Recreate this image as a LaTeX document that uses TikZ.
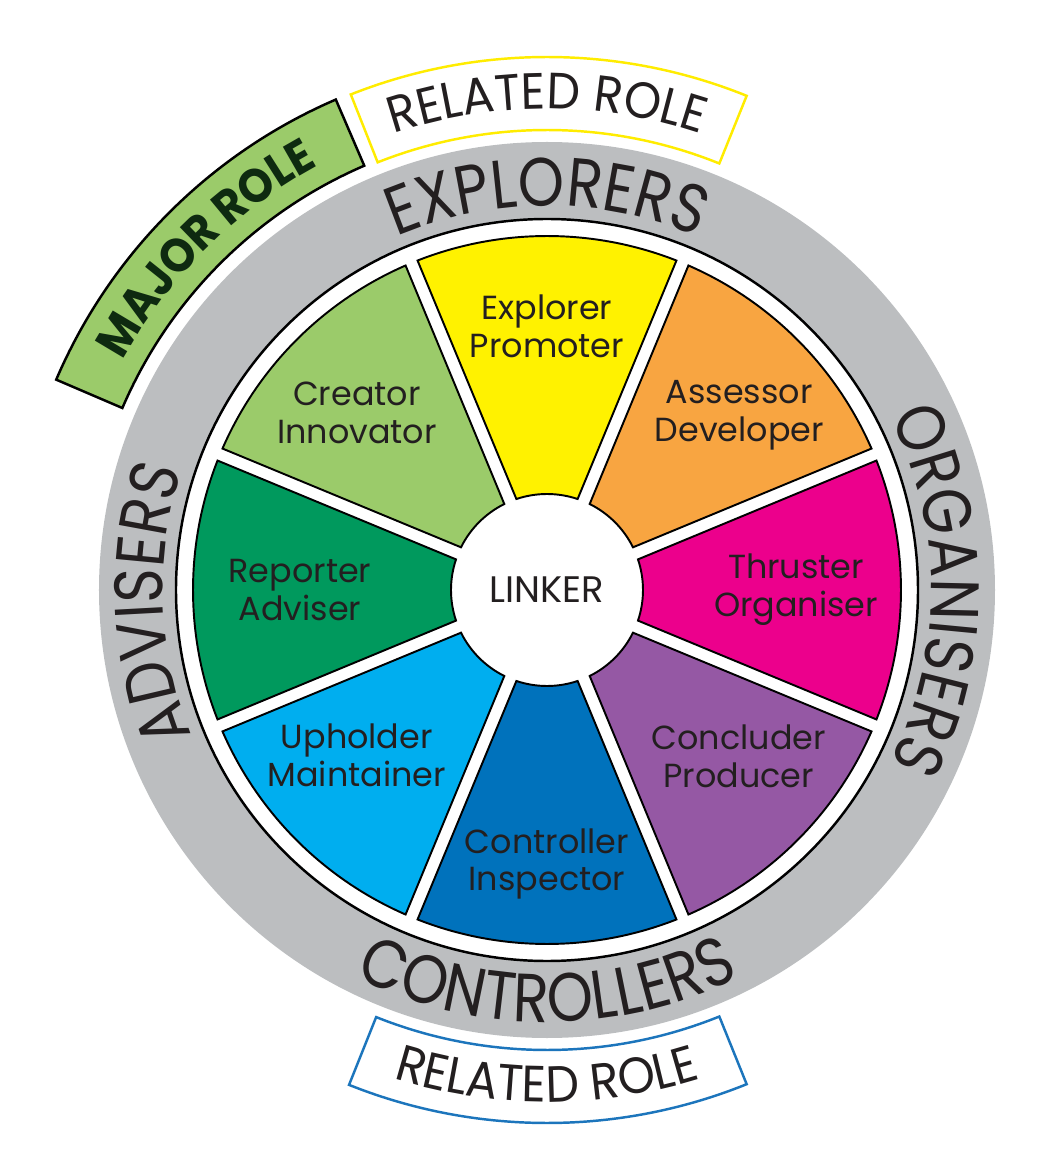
\documentclass[tikz,border=0pt]{standalone}
\usepackage{fontspec}
\setmainfont{Poppins}
\newfontfamily\ringfont[FakeStretch=0.86]{Poppins}
\newfontfamily\tabfont[FakeStretch=0.93]{Poppins}
\usetikzlibrary{decorations.text}
\definecolor{ringgray}{HTML}{BCBEC0}
\definecolor{darktext}{HTML}{231F20}
\definecolor{creatorgreen}{HTML}{9BCB6A}
\definecolor{exploreryellow}{HTML}{FFF200}
\definecolor{assessororange}{HTML}{F8A541}
\definecolor{thrustermagenta}{HTML}{EC008C}
\definecolor{concluderpurple}{HTML}{9558A4}
\definecolor{controllerblue}{HTML}{0072BC}
\definecolor{upholderblue}{HTML}{00AEEF}
\definecolor{reportergreen}{HTML}{00995D}
\definecolor{relatedyellow}{HTML}{FFEC00}
\definecolor{relatedblue}{HTML}{1C75BC}
\definecolor{majortext}{HTML}{0E2A10}

\tikzset{
  segment/.style={draw=black, line width=1.1pt, fill=#1},
  seglabel/.style={align=center, inner sep=0pt, text=darktext, font=\fontsize{19}{21.5}\selectfont},
  tab/.style={line width=1.4pt, draw=#1},
  ringlabel/.style={decorate, decoration={text along path, text align=center,
      text={|\ringfont\fontsize{39}{39}\selectfont\color{darktext}|#1}}},
  tablabel/.style={decorate, decoration={text along path, text align=center,
      text={|\tabfont\fontsize{29}{29}\selectfont\color{darktext}|#1}}},
  majorlabel/.style={decorate, decoration={text along path, text align=center,
      text={|\tabfont\bfseries\fontsize{27}{27}\selectfont\color{majortext}|#1}}}
}

\begin{document}
\begin{tikzpicture}[x=0.02cm, y=0.02cm]
\useasboundingbox (-547,-586) rectangle (493,590);

\draw[tab=black, fill=creatorgreen] (113.3:462) arc[start angle=113.3, end angle=156.8, radius=462]
  -- (156.8:534) arc[start angle=156.8, end angle=113.3, radius=534] -- cycle;
\draw[tab=relatedyellow, fill=white] (68:460) arc[start angle=68, end angle=111.6, radius=460]
  -- (111.6:533) arc[start angle=111.6, end angle=68, radius=533] -- cycle;
\draw[tab=relatedblue, fill=white] (-68:460) arc[start angle=-68, end angle=-111.8, radius=460]
  -- (-111.8:533) arc[start angle=-111.8, end angle=-68, radius=533] -- cycle;

\fill[ringgray] (0,0) circle[radius=448];
\draw[line width=1.4pt, fill=white] (0,0) circle[radius=371];

\foreach \ang/\col/\la/\lr/\name/\txt in {
    90/exploreryellow/90/264/explorer/{Explorer\\Promoter},
    45/assessororange/42.3/260/assessor/{Assessor\\Developer},
    0/thrustermagenta/0/249/thruster/{Thruster\\Organiser},
    -45/concluderpurple/-41/254/concluder/{Concluder\\Producer},
    -90/controllerblue/-90/274/controller/{Controller\\Inspector},
    -135/upholderblue/-139/252/upholder/{Upholder\\Maintainer},
    180/reportergreen/180/247/reporter/{Reporter\\Adviser},
    135/creatorgreen/137/260/creator/{Creator\\Innovator}}
{
  \pgfmathsetmacro\oa{\ang-21.45}
  \pgfmathsetmacro\ob{\ang+21.45}
  \pgfmathsetmacro\ia{\ang-18.6}
  \pgfmathsetmacro\ib{\ang+18.6}
  \draw[segment=\col] (\oa:354) arc[start angle=\oa, end angle=\ob, radius=354]
    -- (\ib:96) arc[start angle=\ib, end angle=\ia, radius=96] -- cycle;
  \node[seglabel] (\name) at (\la:\lr) {\txt};
}
\node[text=darktext, font=\fontsize{21}{21}\selectfont] (linker) at (0,0) {LINKER};

\path[ringlabel=EXPLORERS] (150:384) arc[start angle=150, end angle=30, radius=384];
\path[ringlabel=ORGANISERS] (60:384) arc[start angle=60, end angle=-60, radius=384];
\path[ringlabel=CONTROLLERS] (-150:432) arc[start angle=-150, end angle=-30, radius=432];
\path[ringlabel=ADVISERS] (242:384) arc[start angle=242, end angle=122, radius=384];

\path[majorlabel=MAJOR ROLE] (170:482) arc[start angle=170, end angle=100, radius=482];
\path[tablabel=RELATED ROLE] (125:481) arc[start angle=125, end angle=55, radius=481];
\path[tablabel=RELATED ROLE] (-125:512) arc[start angle=-125, end angle=-55, radius=512];
\end{tikzpicture}
\end{document}
